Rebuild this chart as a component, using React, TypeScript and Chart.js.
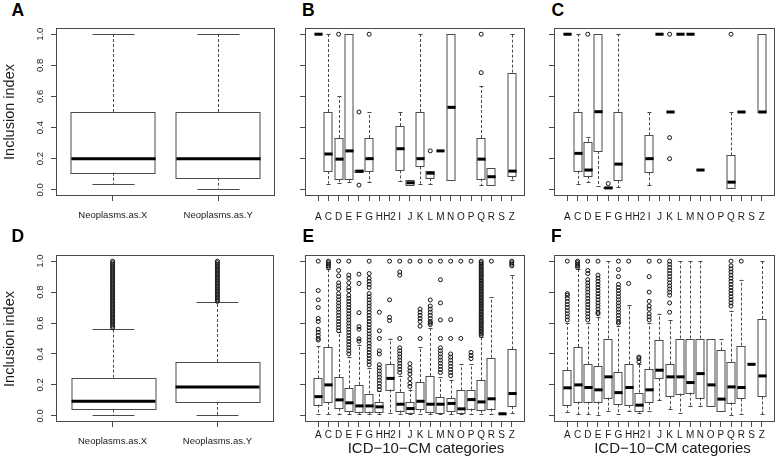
import React, { useEffect, useRef } from 'react';
import { Chart, registerables } from 'chart.js';

Chart.register(...registerables);

const FONT = '"Liberation Sans", Arial, Helvetica, sans-serif';

// ---------- categories & ticks ----------
const icdCategories = ['A', 'C', 'D', 'E', 'F', 'G', 'H', 'H2', 'I', 'J', 'K', 'L', 'M', 'N', 'O', 'P', 'Q', 'R', 'S', 'Z'];
const neoCategories = ['Neoplasms.as.X', 'Neoplasms.as.Y'];
const yTickValues = [0, 0.2, 0.4, 0.6, 0.8, 1];
const yTickLabels = ['0.0', '0.2', '0.4', '0.6', '0.8', '1.0'];

// ---------- Panel A ----------
const aLow = [0.035, 0.008];
const aQ1 = [0.11, 0.077];
const aMed = [0.2, 0.2];
const aQ3 = [0.5, 0.5];
const aHigh = [1, 1];
const aOut: number[][] = [[], []];

// ---------- Panel B ----------
const bLow = [1, 0.04, 0.042, 0.05, 0.115, 0.05, null, null, 0.057, 0.03, 0.04, 0.035, 0.25, 0.063, null, null, 0.03, 0.03, null, 0.06];
const bQ1 = [1, 0.12, 0.069, 0.071, 0.115, 0.12, null, null, 0.125, 0.03, 0.15, 0.075, 0.25, 0.063, null, null, 0.071, 0.03, null, 0.086];
const bMed = [1, 0.23, 0.197, 0.25, 0.12, 0.2, null, null, 0.264, 0.045, 0.2, 0.107, 0.25, 0.53, null, null, 0.197, 0.084, null, 0.12];
const bQ3 = [1, 0.5, 0.333, 1, 0.126, 0.333, null, null, 0.41, 0.06, 0.5, 0.12, 0.25, 1, null, null, 0.333, 0.138, null, 0.753];
const bHigh = [1, 1, 0.6, 1, 0.126, 0.5, null, null, 0.5, 0.06, 1, 0.12, 0.25, 1, null, null, 0.667, 0.138, null, 1];
const bOut: number[][] = [[], [], [1], [], [0.5, 0.03], [1], [], [], [], [], [], [0.25], [], [], [], [], [1, 0.753], [], [], []];

// ---------- Panel C ----------
const cLow = [1, 0.036, 0.047, 0.026, 0.01, 0.017, null, null, 0.03, 1, 0.5, 1, 1, 0.127, null, null, 0.009, 0.5, null, 0.5];
const cQ1 = [1, 0.122, 0.09, 0.249, 0.01, 0.06, null, null, 0.112, 1, 0.5, 1, 1, 0.127, null, null, 0.013, 0.5, null, 0.5];
const cMed = [1, 0.234, 0.127, 0.502, 0.012, 0.165, null, null, 0.2, 1, 0.5, 1, 1, 0.127, null, null, 0.049, 0.5, null, 0.5];
const cQ3 = [1, 0.502, 0.309, 1, 0.015, 0.502, null, null, 0.35, 1, 0.5, 1, 1, 0.127, null, null, 0.221, 0.5, null, 1];
const cHigh = [1, 1, 0.337, 1, 0.015, 1, null, null, 0.502, 1, 0.5, 1, 1, 0.127, null, null, 0.502, 0.5, null, 1];
const cOut: number[][] = [[], [], [1], [], [0.04], [], [], [], [], [], [1, 0.335, 0.2], [], [], [], [], [], [1], [], [], []];

// ---------- Panel D ----------
const dLow = [0.004, 0.004];
const dQ1 = [0.041, 0.09];
const dMed = [0.094, 0.187];
const dQ3 = [0.247, 0.348];
const dHigh = [0.56, 0.736];
const dOut: number[][] = [
  [0.57, 0.58, 0.59, 0.6, 0.61, 0.62, 0.63, 0.64, 0.65, 0.66, 0.67, 0.68, 0.69, 0.7, 0.71, 0.72, 0.73, 0.74, 0.75, 0.76, 0.77, 0.78, 0.79, 0.8, 0.81, 0.82, 0.83, 0.84, 0.85, 0.86, 0.87, 0.88, 0.89, 0.9, 0.91, 0.92, 0.93, 0.94, 0.95, 0.96, 0.97, 0.98, 0.99, 1],
  [0.74, 0.75, 0.76, 0.77, 0.78, 0.79, 0.8, 0.81, 0.82, 0.83, 0.84, 0.85, 0.86, 0.87, 0.88, 0.89, 0.9, 0.91, 0.92, 0.93, 0.94, 0.95, 0.96, 0.97, 0.98, 0.99, 1],
];

// ---------- Panel E ----------
const eLow = [0.01, 0.01, 0.01, 0.01, 0.01, 0.01, 0.01, 0.02, 0.01, 0.01, 0.01, 0.01, 0.01, 0.01, 0.01, 0.01, 0.01, 0.01, 0.013, 0.015];
const eQ1 = [0.073, 0.09, 0.049, 0.03, 0.026, 0.026, 0.026, 0.17, 0.034, 0.02, 0.041, 0.026, 0.02, 0.03, 0.021, 0.047, 0.036, 0.047, 0.013, 0.062];
const eMed = [0.124, 0.2, 0.103, 0.084, 0.064, 0.064, 0.058, 0.242, 0.075, 0.047, 0.094, 0.075, 0.075, 0.08, 0.045, 0.105, 0.09, 0.11, 0.013, 0.144];
const eQ3 = [0.242, 0.444, 0.251, 0.178, 0.2, 0.144, 0.09, 0.333, 0.155, 0.09, 0.219, 0.258, 0.122, 0.112, 0.165, 0.17, 0.23, 0.376, 0.013, 0.43];
const eHigh = [0.45, 0.95, 0.54, 0.38, 0.461, 0.31, 0.16, 0.5, 0.26, 0.17, 0.444, 0.57, 0.25, 0.23, 0.333, 0.333, 0.51, 0.766, 0.013, 0.91];
const eOut: number[][] = [
  [1, 0.81, 0.75, 0.7, 0.63, 0.61, 0.56, 0.54, 0.52, 0.5, 0.49],
  [0.96, 0.97, 0.98, 0.99, 1],
  [1, 0.94, 0.905, 0.86, 0.84, 0.82, 0.79, 0.77, 0.75, 0.73, 0.71, 0.69, 0.67, 0.65, 0.63, 0.61, 0.59, 0.57, 0.55],
  [1, 0.91, 0.89, 0.86, 0.83, 0.81, 0.78, 0.76, 0.74, 0.72, 0.7, 0.68, 0.66, 0.64, 0.62, 0.6, 0.58, 0.56, 0.54, 0.52, 0.5, 0.48, 0.46, 0.44, 0.42, 0.4],
  [0.916, 0.856, 0.667, 0.577, 0.56, 0.498, 0.483],
  [1, 0.92, 0.89, 0.87, 0.85, 0.83, 0.79, 0.77, 0.75, 0.73, 0.71, 0.69, 0.67, 0.65, 0.63, 0.61, 0.59, 0.57, 0.55, 0.53, 0.51, 0.49, 0.47, 0.45, 0.43, 0.41, 0.39, 0.37, 0.35, 0.33],
  [0.67, 0.55, 0.5, 0.42, 0.4, 0.33, 0.31, 0.29, 0.27, 0.25, 0.23, 0.21, 0.19, 0.17],
  [1, 0.75, 0.637, 0.616],
  [1, 0.93, 0.91, 0.5, 0.44, 0.42, 0.4, 0.38, 0.36, 0.34, 0.32, 0.3, 0.28],
  [1, 0.337, 0.31, 0.29, 0.27, 0.24, 0.21, 0.19],
  [1, 0.69, 0.67, 0.65, 0.63, 0.61, 0.58, 0.5],
  [1, 0.749, 0.71, 0.69, 0.67, 0.65, 0.63, 0.61, 0.6, 0.59],
  [1, 0.88, 0.73, 0.62, 0.5, 0.44, 0.42, 0.4, 0.38, 0.36, 0.34, 0.32, 0.3, 0.28],
  [1, 0.622, 0.5, 0.4, 0.38, 0.36, 0.34, 0.32, 0.3, 0.28, 0.26],
  [1, 0.5],
  [1, 0.41, 0.39, 0.37],
  [0.52, 0.53, 0.54, 0.55, 0.56, 0.57, 0.58, 0.59, 0.6, 0.61, 0.62, 0.63, 0.64, 0.65, 0.66, 0.67, 0.68, 0.69, 0.7, 0.71, 0.72, 0.73, 0.74, 0.75, 0.76, 0.77, 0.78, 0.79, 0.8, 0.81, 0.82, 0.83, 0.84, 0.85, 0.86, 0.87, 0.88, 0.89, 0.9, 0.91, 0.92, 0.93, 0.94, 0.95, 0.96, 0.97, 0.98, 0.99, 1],
  [1],
  [],
  [1, 0.99, 0.98, 0.97],
];

// ---------- Panel F ----------
const fLow = [0.026, 0.01, 0.01, 0.006, 0.032, 0.01, 0.032, 0.02, 0.03, 0.1, 0.043, 0.02, 0.062, 0.062, 0.062, 0.03, 0.006, 0.01, 0.333, 0.01];
const fQ1 = [0.069, 0.092, 0.092, 0.092, 0.118, 0.075, 0.069, 0.028, 0.09, 0.243, 0.129, 0.144, 0.15, 0.118, 0.062, 0.03, 0.086, 0.112, 0.333, 0.125];
const fMed = [0.181, 0.2, 0.183, 0.168, 0.252, 0.15, 0.183, 0.069, 0.168, 0.295, 0.252, 0.252, 0.215, 0.273, 0.2, 0.108, 0.187, 0.183, 0.333, 0.258];
const fQ3 = [0.297, 0.445, 0.333, 0.323, 0.5, 0.286, 0.333, 0.15, 0.3, 0.492, 0.333, 0.5, 0.5, 0.5, 0.5, 0.424, 0.35, 0.454, 0.333, 0.626];
const fHigh = [0.6, 0.95, 0.6, 0.64, 1, 0.58, 0.716, 0.333, 0.6, 0.66, 0.62, 1, 1, 1, 0.5, 0.495, 0.68, 0.88, 0.333, 1];
const fOut: number[][] = [
  [1, 0.79, 0.78, 0.76, 0.74, 0.72, 0.7, 0.68, 0.66, 0.64, 0.62],
  [0.96, 0.97, 0.98, 0.99, 1],
  [1, 0.94, 0.92, 0.88, 0.86, 0.84, 0.82, 0.8, 0.78, 0.76, 0.74, 0.72, 0.7, 0.68, 0.66, 0.64, 0.62],
  [1, 0.91, 0.89, 0.87, 0.85, 0.83, 0.81, 0.79, 0.77, 0.75, 0.73, 0.71, 0.69, 0.67, 0.66],
  [],
  [1, 0.946, 0.9, 0.85, 0.83, 0.81, 0.79, 0.77, 0.75, 0.73, 0.71, 0.69, 0.67, 0.65, 0.63, 0.61, 0.6],
  [1, 0.856],
  [0.35, 0.37, 0.38],
  [1, 0.9, 0.8, 0.74, 0.71, 0.69, 0.66, 0.64, 0.62],
  [1],
  [1, 0.98, 0.96, 0.94, 0.92, 0.9, 0.88, 0.86, 0.84, 0.82, 0.8, 0.78, 0.73, 0.67],
  [], [], [], [], [],
  [1, 0.97, 0.95, 0.93, 0.91, 0.89, 0.87, 0.85, 0.83, 0.81, 0.79, 0.77, 0.75, 0.73, 0.71],
  [1],
  [],
  [],
];

type Num = number | null;
interface Stats { low: Num[]; q1: Num[]; med: Num[]; q3: Num[]; high: Num[]; out: number[][] }
interface PanelSpec {
  id: string;
  cats: string[];
  stats: Stats;
  frame: { x: number; y: number; w: number; h: number };
  yLabels: boolean;
  xFont: number;
  xPad: number;
  xMin: number;
  xMax: number;
}

const panels: PanelSpec[] = [
  { id: 'A', cats: neoCategories, stats: { low: aLow, q1: aQ1, med: aMed, q3: aQ3, high: aHigh, out: aOut }, frame: { x: 56, y: 28, w: 219, h: 168 }, yLabels: true, xFont: 9.5, xPad: 9, xMin: 0.46, xMax: 2.54 },
  { id: 'B', cats: icdCategories, stats: { low: bLow, q1: bQ1, med: bMed, q3: bQ3, high: bHigh, out: bOut }, frame: { x: 305, y: 28, w: 221, h: 168 }, yLabels: false, xFont: 10, xPad: 10, xMin: -0.3, xMax: 21.3 },
  { id: 'C', cats: icdCategories, stats: { low: cLow, q1: cQ1, med: cMed, q3: cQ3, high: cHigh, out: cOut }, frame: { x: 554, y: 28, w: 222, h: 168 }, yLabels: false, xFont: 10, xPad: 10, xMin: -0.3, xMax: 21.3 },
  { id: 'D', cats: neoCategories, stats: { low: dLow, q1: dQ1, med: dMed, q3: dQ3, high: dHigh, out: dOut }, frame: { x: 56, y: 255, w: 219, h: 167 }, yLabels: true, xFont: 9.5, xPad: 9, xMin: 0.46, xMax: 2.54 },
  { id: 'E', cats: icdCategories, stats: { low: eLow, q1: eQ1, med: eMed, q3: eQ3, high: eHigh, out: eOut }, frame: { x: 305, y: 255, w: 221, h: 167 }, yLabels: false, xFont: 10, xPad: 2, xMin: -0.3, xMax: 21.3 },
  { id: 'F', cats: icdCategories, stats: { low: fLow, q1: fQ1, med: fMed, q3: fQ3, high: fHigh, out: fOut }, frame: { x: 554, y: 255, w: 222, h: 167 }, yLabels: false, xFont: 10, xPad: 2, xMin: -0.3, xMax: 21.3 },
];

const LINE = '#4a4a4a';

function BoxPanel({ spec }: { spec: PanelSpec }) {
  const ref = useRef<HTMLCanvasElement>(null);
  const ML = spec.yLabels ? 40 : 12;
  const MT = 4;
  const MR = 2;
  const MB = 34;
  const W = spec.frame.w + ML + MR;
  const H = spec.frame.h + MT + MB;

  useEffect(() => {
    const canvas = ref.current;
    if (!canvas) return;
    const s = spec.stats;
    const points: { x: number; y: number }[] = [];
    s.out.forEach((arr, i) => arr.forEach((v) => points.push({ x: i + 1, y: v })));

    const boxPlugin = {
      id: 'boxes' + spec.id,
      beforeDatasetsDraw(chart: any) {
        const { ctx, chartArea: ca, scales } = chart;
        const xs = scales.x;
        const ys = scales.y;
        const py = (v: number) => ys.getPixelForValue(v);
        const unit = xs.getPixelForValue(1) - xs.getPixelForValue(0);
        const hw = 0.4 * unit;
        const cw = 0.2 * unit;
        ctx.save();
        // frame
        ctx.strokeStyle = LINE;
        ctx.lineWidth = 1;
        ctx.strokeRect(Math.round(ca.left) + 0.5, Math.round(ca.top) + 0.5, Math.round(ca.width) - 1, Math.round(ca.height) - 1);
        const line = (x1: number, y1: number, x2: number, y2: number) => {
          ctx.beginPath();
          ctx.moveTo(x1, y1);
          ctx.lineTo(x2, y2);
          ctx.stroke();
        };
        spec.cats.forEach((_, i) => {
          const med = s.med[i];
          const q1 = s.q1[i];
          const q3 = s.q3[i];
          const lo = s.low[i];
          const hi = s.high[i];
          if (med == null || q1 == null || q3 == null || lo == null || hi == null) return;
          const cx = Math.round(xs.getPixelForValue(i + 1)) + 0.5;
          ctx.strokeStyle = LINE;
          ctx.lineWidth = 1;
          ctx.setLineDash([3, 2]);
          if (hi > q3) line(cx, py(q3), cx, py(hi));
          if (lo < q1) line(cx, py(q1), cx, py(lo));
          ctx.setLineDash([]);
          line(cx - cw, Math.round(py(hi)) + 0.5, cx + cw, Math.round(py(hi)) + 0.5);
          line(cx - cw, Math.round(py(lo)) + 0.5, cx + cw, Math.round(py(lo)) + 0.5);
          if (q3 > q1) {
            const top = Math.round(py(q3)) + 0.5;
            const bot = Math.round(py(q1)) + 0.5;
            ctx.strokeRect(Math.round(cx - hw), top, Math.round(2 * hw), bot - top);
          }
          ctx.strokeStyle = '#000';
          ctx.lineWidth = 3;
          line(cx - hw, py(med), cx + hw, py(med));
        });
        ctx.restore();
      },
      afterDraw(chart: any) {
        if (!spec.yLabels) return;
        const { ctx, chartArea: ca, scales } = chart;
        ctx.save();
        ctx.fillStyle = '#222';
        ctx.font = `9.5px ${FONT}`;
        ctx.textAlign = 'center';
        ctx.textBaseline = 'alphabetic';
        yTickValues.forEach((v, i) => {
          ctx.save();
          ctx.translate(ca.left - 13, scales.y.getPixelForValue(v));
          ctx.rotate(-Math.PI / 2);
          ctx.fillText(yTickLabels[i], 0, 0);
          ctx.restore();
        });
        ctx.restore();
      },
    };

    const chart = new Chart(canvas, {
      type: 'scatter',
      data: {
        datasets: [
          {
            data: points,
            pointRadius: 2,
            pointHoverRadius: 2,
            pointStyle: 'circle',
            borderColor: '#111',
            backgroundColor: 'rgba(0,0,0,0)',
            borderWidth: 1,
          },
        ],
      },
      options: {
        responsive: false,
        animation: false,
        events: [],
        layout: { padding: { left: 0, top: MT, right: MR, bottom: 0 } },
        plugins: { legend: { display: false }, tooltip: { enabled: false }, title: { display: false } },
        scales: {
          x: {
            type: 'linear',
            min: spec.xMin,
            max: spec.xMax,
            afterBuildTicks: (sc: any) => {
              sc.ticks = spec.cats.map((_, i) => ({ value: i + 1 }));
            },
            ticks: {
              autoSkip: false,
              maxRotation: 0,
              minRotation: 0,
              padding: spec.xPad,
              color: '#1a1a1a',
              font: { family: FONT, size: spec.xFont },
              callback: (_v: any, idx: number) => spec.cats[idx] ?? '',
            },
            grid: { display: true, drawOnChartArea: false, drawTicks: true, tickLength: 5, color: LINE, lineWidth: 1 },
            border: { display: false },
            afterFit: (sc: any) => {
              sc.height = MB;
              sc.paddingLeft = 0;
              sc.paddingRight = 0;
            },
          },
          y: {
            type: 'linear',
            min: -0.04,
            max: 1.04,
            afterBuildTicks: (sc: any) => {
              sc.ticks = yTickValues.map((v) => ({ value: v }));
            },
            ticks: { display: false },
            grid: { display: true, drawOnChartArea: false, drawTicks: true, tickLength: 5, color: LINE, lineWidth: 1 },
            border: { display: false },
            afterFit: (sc: any) => {
              sc.width = ML;
              sc.paddingTop = 0;
              sc.paddingBottom = 0;
            },
          },
        },
      } as any,
      plugins: [boxPlugin],
    });
    return () => chart.destroy();
  }, [spec]);

  return (
    <canvas
      ref={ref}
      width={W}
      height={H}
      style={{ position: 'absolute', left: spec.frame.x - ML, top: spec.frame.y - MT, width: W, height: H }}
    />
  );
}

const letters = [
  { t: 'A', x: 11.5, b: 17 },
  { t: 'B', x: 302, b: 16.5 },
  { t: 'C', x: 551.5, b: 16.5 },
  { t: 'D', x: 11.5, b: 243 },
  { t: 'E', x: 302.5, b: 243 },
  { t: 'F', x: 551, b: 242.5 },
];

export default function App() {
  const letterSize = 17.5;
  const ylabSize = 14.5;
  const xlabSize = 15;
  return (
    <div style={{ position: 'absolute', left: 0, top: 0, width: 778, height: 468, background: '#fff', overflow: 'hidden', fontFamily: FONT }}>
      {panels.map((p) => (
        <BoxPanel key={p.id} spec={p} />
      ))}
      {letters.map((l) => (
        <div
          key={l.t}
          style={{ position: 'absolute', left: l.x, top: l.b - 0.8465 * letterSize, fontSize: letterSize, lineHeight: `${letterSize}px`, fontWeight: 'bold', color: '#000', whiteSpace: 'nowrap' }}
        >
          {l.t}
        </div>
      ))}
      {[112, 338.5].map((cy, i) => (
        <div
          key={'yl' + i}
          style={{ position: 'absolute', left: 8.5, top: cy, fontSize: ylabSize, lineHeight: `${ylabSize}px`, color: '#1a1a1a', whiteSpace: 'nowrap', transform: 'translate(-50%, -50%) rotate(-90deg)' }}
        >
          Inclusion index
        </div>
      ))}
      {[426, 672.5].map((cx, i) => (
        <div
          key={'xl' + i}
          style={{ position: 'absolute', left: cx, top: 453 - 0.8465 * xlabSize, fontSize: xlabSize, lineHeight: `${xlabSize}px`, color: '#1a1a1a', whiteSpace: 'nowrap', transform: 'translateX(-50%)' }}
        >
          ICD−10−CM categories
        </div>
      ))}
    </div>
  );
}
